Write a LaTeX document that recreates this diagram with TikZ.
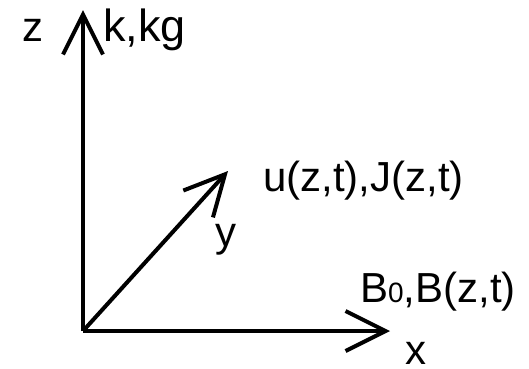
\documentclass[tikz,border=0pt]{standalone}
\usepackage{fontspec}
\setmainfont{Liberation Sans}
\usetikzlibrary{arrows.meta}

\begin{document}
\begin{tikzpicture}[
    x=1pt, y=-1pt,
    axis/.style={line width=4pt, -{Straight Barb[length=40pt, width=40pt]}},
    lbl/.style={anchor=base west, inner sep=0pt, font=\fontsize{42pt}{48pt}\selectfont}
]
\useasboundingbox (0,0) rectangle (529,368);
\coordinate (o) at (83,331);
\coordinate (ztip) at (83,10);
\coordinate (xtip) at (390,331);
\coordinate (ytip) at (228,171);

\draw[axis] (o) -- (ztip);
\draw[axis] (o) -- (xtip);
\draw[axis] (o) -- (ytip);

\node[lbl] (zlab) at (22,41) {z};
\node[lbl, font=\fontsize{45pt}{50pt}\selectfont] (klab) at (103,41) {k,kg};
\node[lbl] (ulab) at (263,191) {u(z,t),J(z,t)};
\node[lbl] (ylab) at (215,246) {y};
\node[lbl] (blab) at (360,302) {B{\fontsize{28pt}{30pt}\selectfont 0},B(z,t)};
\node[lbl] (xlab) at (405,364) {x};
\end{tikzpicture}
\end{document}
